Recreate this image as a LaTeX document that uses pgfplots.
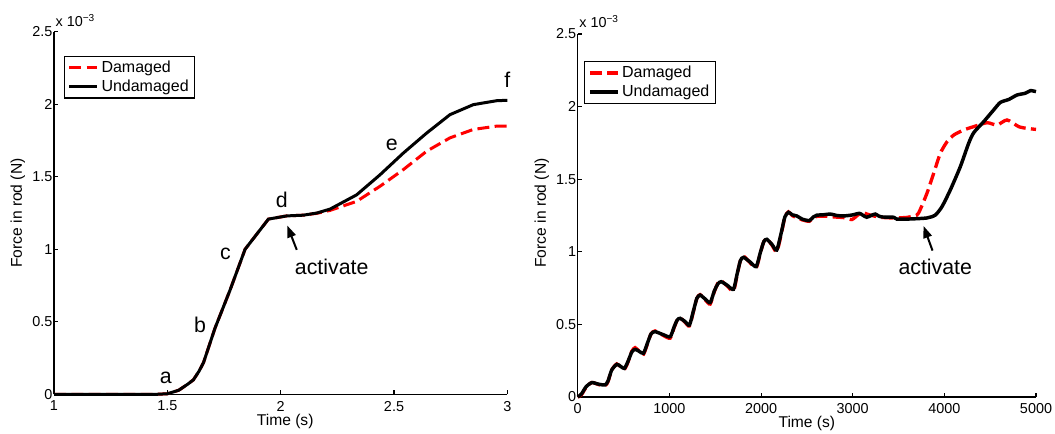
\documentclass[border=0pt]{standalone}
\usepackage{fontspec}
\setmainfont{Liberation Sans}
\usepackage{pgfplots}
\pgfplotsset{compat=1.18}
\usetikzlibrary{arrows.meta}

\pgfplotsset{
  forceaxis/.style={
    scale only axis, clip=false,
    axis x line=bottom, axis y line=left,
    axis line style={-, line width=0.8pt},
    tick align=inside, major tick length=3pt,
    tick style={black, line width=0.8pt},
    ymin=0, ymax=2.5, ytick={0,0.5,1,1.5,2,2.5},
    tick label style={font=\fontsize{10.8}{12}\selectfont},
    /pgf/number format/assume math mode=true,
    /pgf/number format/1000 sep={},
    yticklabel style={inner xsep=1pt},
    xticklabel style={yshift=-1.5pt},
    xlabel={Time (s)}, ylabel={Force in rod (N)},
    label style={font=\fontsize{11.7}{14}\selectfont},
    legend style={draw=black, line width=0.8pt, font=\fontsize{12}{14}\selectfont,
      anchor=north west, inner xsep=2.5pt, inner ysep=1.5pt},
    legend cell align=left,
    legend image code/.code={\draw[##1] (0pt,0pt) -- (21pt,0pt);},
  },
  dmg/.style={red, line width=2.25pt, dash pattern=on 9pt off 4pt},
  und/.style={black, line width=2.25pt},
}
\tikzset{
  lbl/.style={font=\fontsize{16}{18}\selectfont, inner sep=0pt},
  arr/.style={-{Triangle[length=9pt,width=6.5pt]}, line width=1.5pt},
  mult/.style={anchor=base west, inner sep=0pt, font=\fontsize{10.8}{12}\selectfont},
}

\begin{document}
\begin{tikzpicture}
  \useasboundingbox (0,0) rectangle (791.25pt,324.75pt);

  % left: force vs time, 1-3 s
  \begin{axis}[forceaxis,
      at={(40.5pt,29pt)}, anchor=south west,
      width=340pt, height=272pt,
      xmin=1, xmax=3, xtick={1,1.5,2,2.5,3},
      xlabel style={at={(axis description cs:0.51,-0.076)}, anchor=center},
      ylabel style={at={(axis description cs:-0.0795,0.5)}, anchor=center},
      legend style={at={(axis description cs:0.022,0.934)}},
    ]
    \addplot[dmg] coordinates {
      (1,0) (1.45,0) (1.5,0.004) (1.55,0.028) (1.59,0.07) (1.615,0.1)
      (1.64,0.16) (1.66,0.22) (1.71,0.455) (1.777,0.72) (1.843,1.0)
      (1.946,1.208) (2.027,1.23) (2.1,1.235) (2.16,1.248) (2.218,1.268)
      (2.335,1.33) (2.438,1.434) (2.541,1.549) (2.644,1.676) (2.747,1.768)
      (2.85,1.826) (2.953,1.849) (3,1.849)};
    \addlegendentry{Damaged}
    \addplot[und] coordinates {
      (1,0) (1.45,0) (1.5,0.004) (1.55,0.028) (1.59,0.07) (1.615,0.1)
      (1.64,0.16) (1.66,0.22) (1.71,0.455) (1.777,0.72) (1.843,1.0)
      (1.946,1.208) (2.027,1.23) (2.1,1.235) (2.16,1.25) (2.218,1.277)
      (2.335,1.375) (2.438,1.513) (2.541,1.663) (2.644,1.801) (2.747,1.928)
      (2.85,1.997) (2.953,2.024) (3,2.027)};
    \addlegendentry{Undamaged}

    \node[lbl] at (axis cs:1.493,0.117) {a};
    \node[lbl] at (axis cs:1.644,0.478) {b};
    \node[lbl] at (axis cs:1.756,0.968) {c};
    \node[lbl] at (axis cs:2.005,1.341) {d};
    \node[lbl] at (axis cs:2.49,1.72) {e};
    \node[lbl] at (axis cs:3.0,2.17) {f};
    \node[lbl] at (axis cs:2.225,0.881) {activate};
    \draw[arr] (axis cs:2.071,0.996) -- (axis cs:2.029,1.164);
    \node[mult] at ([xshift=1pt,yshift=3.5pt]rel axis cs:0,1) {x 10\textsuperscript{\char"2212 3}};
  \end{axis}

  % right: force vs time, 0-5000 s
  \begin{axis}[forceaxis,
      at={(433.3pt,27pt)}, anchor=south west,
      width=343.7pt, height=272.25pt,
      xmin=0, xmax=5000, xtick={0,1000,2000,3000,4000,5000},
      xlabel style={at={(axis description cs:0.5,-0.0725)}, anchor=center},
      ylabel style={at={(axis description cs:-0.0786,0.507)}, anchor=center},
      legend style={at={(axis description cs:0.014,0.926)}},
    ]
    \addplot[dmg, line width=2.5pt, smooth, tension=0.4] coordinates {
      (0,0) (40,0.015) (90,0.065) (153,0.1) (230,0.085) (298,0.078) (330,0.105)
      (370,0.185) (426,0.228) (470,0.205) (509,0.19) (545,0.235) (590,0.315)
      (626,0.34) (670,0.315) (717,0.294) (760,0.365) (800,0.435) (844,0.455)
      (930,0.425) (1008,0.405) (1050,0.475) (1085,0.53) (1117,0.545) (1170,0.515)
      (1219,0.49) (1265,0.595) (1300,0.68) (1335,0.705) (1390,0.67) (1445,0.64)
      (1490,0.725) (1530,0.785) (1565,0.8) (1630,0.765) (1699,0.73) (1740,0.845)
      (1775,0.94) (1809,0.97) (1880,0.925) (1947,0.89) (1990,0.985) (2030,1.07)
      (2063,1.09) (2120,1.045) (2171,1.0) (2220,1.12) (2260,1.24) (2299,1.275)
      (2340,1.25) (2390,1.235) (2450,1.22) (2527,1.21) (2570,1.235) (2620,1.245)
      (2720,1.245) (2800,1.24) (2910,1.235) (2990,1.222) (3050,1.25) (3101,1.27)
      (3191,1.253) (3300,1.238) (3446,1.233) (3591,1.237) (3700,1.253) (3736,1.29)
      (3810,1.403) (3883,1.54) (3956,1.678) (4029,1.758) (4102,1.804) (4211,1.839)
      (4320,1.862) (4466,1.889) (4575,1.873) (4684,1.908) (4811,1.862) (4902,1.85)
      (5000,1.843)};
    \addlegendentry{Damaged}
    \addplot[und, line width=2.6pt, smooth, tension=0.4] coordinates {
      (0,0) (40,0.02) (90,0.07) (153,0.099) (230,0.088) (298,0.083) (330,0.11)
      (370,0.185) (426,0.225) (470,0.21) (509,0.197) (545,0.24) (590,0.31)
      (626,0.328) (670,0.315) (717,0.301) (760,0.37) (800,0.435) (844,0.45)
      (930,0.43) (1008,0.415) (1050,0.48) (1085,0.53) (1117,0.542) (1170,0.52)
      (1219,0.496) (1265,0.6) (1300,0.68) (1335,0.702) (1390,0.675) (1445,0.65)
      (1490,0.73) (1530,0.78) (1565,0.794) (1630,0.77) (1699,0.742) (1740,0.85)
      (1775,0.94) (1809,0.962) (1880,0.93) (1947,0.898) (1990,0.99) (2030,1.07)
      (2063,1.086) (2120,1.05) (2171,1.012) (2220,1.13) (2260,1.24) (2299,1.272)
      (2340,1.255) (2390,1.247) (2450,1.225) (2527,1.215) (2570,1.24) (2607,1.252)
      (2680,1.255) (2754,1.26) (2830,1.25) (2899,1.247) (2990,1.253) (3073,1.265)
      (3110,1.252) (3153,1.238) (3200,1.25) (3246,1.26) (3280,1.248) (3319,1.24)
      (3446,1.238) (3482,1.225) (3627,1.226) (3810,1.233) (3901,1.253) (3974,1.311)
      (4065,1.426) (4174,1.586) (4265,1.747) (4320,1.82) (4429,1.896) (4538,1.977)
      (4611,2.029) (4702,2.049) (4793,2.08) (4884,2.092) (4939,2.11) (5000,2.103)};
    \addlegendentry{Undamaged}

    \node[lbl] at (axis cs:3901,0.897) {activate};
    \draw[arr] (axis cs:3871,1.008) -- (axis cs:3773,1.178);
    \node[mult] at ([xshift=1pt,yshift=5pt]rel axis cs:0,1) {x 10\textsuperscript{\char"2212 3}};
  \end{axis}
\end{tikzpicture}
\end{document}
